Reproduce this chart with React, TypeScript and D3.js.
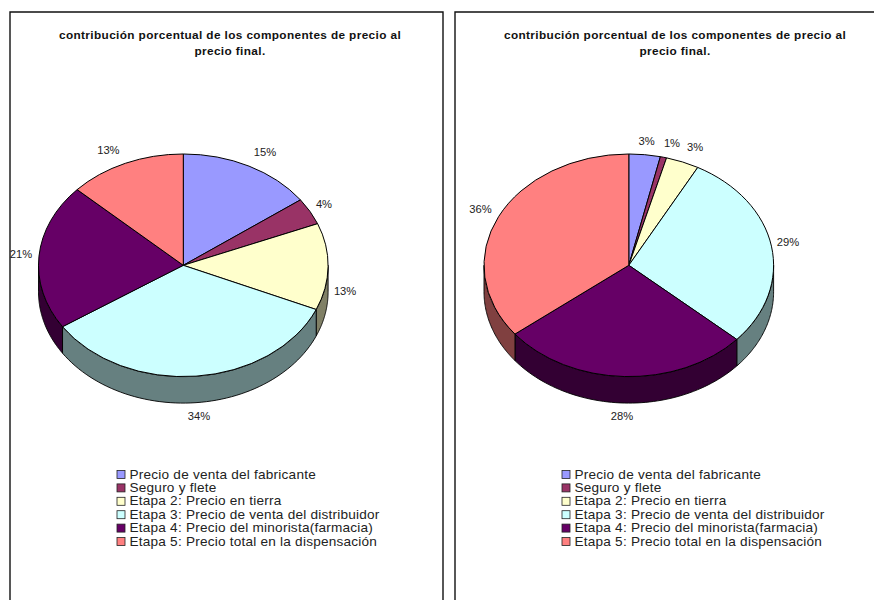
import React from "react";
import * as d3 from "d3";

const categories = [
  "Precio de venta del fabricante",
  "Seguro y flete",
  "Etapa 2: Precio en tierra",
  "Etapa 3: Precio de venta del distribuidor",
  "Etapa 4: Precio del minorista(farmacia)",
  "Etapa 5: Precio total en la dispensación",
];
const colors = ["#9999FF", "#993366", "#FFFFCC", "#CCFFFF", "#660066", "#FF8080"];
const titleLines = ["contribución porcentual de los componentes de precio al", "precio final."];

const leftValues = [15, 3.9, 12.6, 34.2, 21.2, 13.1];
const leftLabels = ["15%", "4%", "13%", "34%", "21%", "13%"];
const rightValues = [3.5, 0.7, 3.7, 28.7, 27.8, 35.6];
const rightLabels = ["3%", "1%", "3%", "29%", "28%", "36%"];

const leftLabelOffsets = [[16, -14], [14, -7], [17, 24], [3, 40], [-18, -2], [-17, -13]];
const rightLabelOffsets = [[2, -14], [8.5, -14], [12.5, -15], [16.6, -4], [-2.3, 39.5], [-18, -8]];

const RX = 144.8;
const RY = 111.3;
const DEPTH = 26.5;
const CY = 265.3;
const FONT = "'Liberation Sans', Arial, sans-serif";

function Pie3D({ cx, values, labels, offsets }: { cx: number; values: number[]; labels: string[]; offsets: number[][] }) {
  const slices = d3.pie<number>().sort(null).value((d) => d)(values);
  const arc = d3.arc<d3.PieArcDatum<number>>().innerRadius(0).outerRadius(RX);
  const px = (a: number) => cx + RX * Math.sin(a);
  const py = (a: number) => CY - RY * Math.cos(a);
  const walls = slices
    .map((s, i) => {
      const a0 = Math.max(s.startAngle, Math.PI / 2);
      const a1 = Math.min(s.endAngle, (3 * Math.PI) / 2);
      if (a1 <= a0) return null;
      const angles = d3.range(0, 61).map((k) => a0 + ((a1 - a0) * k) / 60);
      const top = angles.map((a) => [px(a), py(a)] as [number, number]);
      const bottom = [...angles].reverse().map((a) => [px(a), py(a) + DEPTH] as [number, number]);
      const d = d3.line()([...top, ...bottom]) + "Z";
      const shade = d3.rgb(colors[i]);
      return { d, fill: d3.rgb(shade.r / 2, shade.g / 2, shade.b / 2).formatHex(), i };
    })
    .filter(Boolean) as { d: string; fill: string; i: number }[];
  return (
    <g>
      {walls.map((w) => (
        <path key={w.i} d={w.d} fill={w.fill} stroke="#000" strokeWidth={0.9} strokeLinejoin="round" />
      ))}
      <g transform={`translate(${cx},${CY}) scale(1,${RY / RX})`}>
        {slices.map((s, i) => (
          <path
            key={i}
            d={arc(s) as string}
            fill={colors[i]}
            stroke="#000"
            strokeWidth={1}
            vectorEffect="non-scaling-stroke"
            strokeLinejoin="round"
          />
        ))}
      </g>
      {slices.map((s, i) => {
        const mid = (s.startAngle + s.endAngle) / 2;
        return (
          <text
            key={i}
            x={px(mid) + offsets[i][0]}
            y={py(mid) + offsets[i][1] + 4}
            textAnchor="middle"
            fontFamily={FONT}
            fontSize={11.2}
            fill="#222"
          >
            {labels[i]}
          </text>
        );
      })}
    </g>
  );
}

function Panel({ frameX, frameW, titleX, legendX, children }: { frameX: number; frameW: number; titleX: number; legendX: number; children: React.ReactNode }) {
  const legendY = d3.scalePoint<string>().domain(categories).range([474, 541]);
  return (
    <g>
      <path d={`M${frameX},600V12H${frameX + frameW}V600`} fill="none" stroke="#111" strokeWidth={1.4} />
      {titleLines.map((t, i) => (
        <text
          key={i}
          x={titleX}
          y={38.5 + i * 16}
          textAnchor="middle"
          fontFamily={FONT}
          fontWeight="bold"
          fontSize={11.8}
          letterSpacing={0.38}
          fill="#111"
        >
          {t}
        </text>
      ))}
      {children}
      {categories.map((c, i) => (
        <g key={c}>
          <rect x={legendX} y={(legendY(c) as number) - 3.5} width={8} height={8} fill={colors[i]} stroke="#222" strokeWidth={0.8} />
          <text x={legendX + 12.5} y={(legendY(c) as number) + 4.5} fontFamily={FONT} fontSize={13.6} letterSpacing={0.22} fill="#222">
            {c}
          </text>
        </g>
      ))}
    </g>
  );
}

export default function App() {
  return (
    <svg
      width={874}
      height={600}
      viewBox="0 0 874 600"
      style={{ position: "absolute", left: 0, top: 0, display: "block", background: "#fff" }}
    >
      <Panel frameX={10} frameW={433} titleX={230} legendX={117}>
        <Pie3D cx={183.3} values={leftValues} labels={leftLabels} offsets={leftLabelOffsets} />
      </Panel>
      <Panel frameX={455} frameW={425} titleX={675} legendX={562}>
        <Pie3D cx={628.8} values={rightValues} labels={rightLabels} offsets={rightLabelOffsets} />
      </Panel>
    </svg>
  );
}
